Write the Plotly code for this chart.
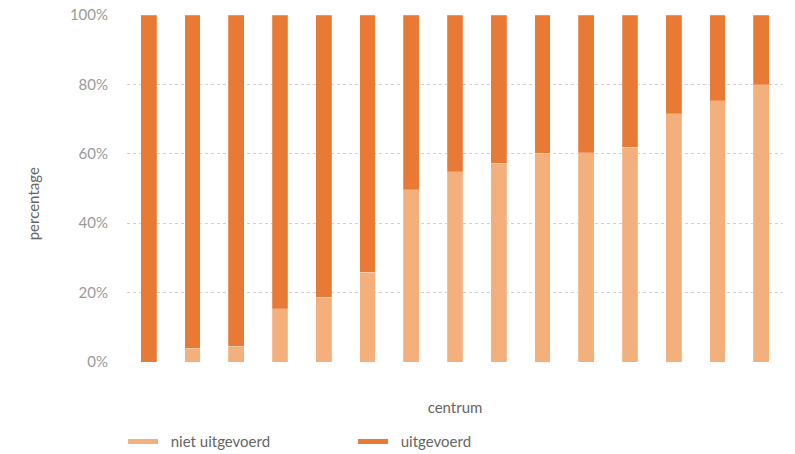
import plotly.graph_objects as go

# Centres (labels not shown on the axis)
centra = ["C01", "C02", "C03", "C04", "C05", "C06", "C07", "C08",
          "C09", "C10", "C11", "C12", "C13", "C14", "C15"]

# Share of cases per centre, in percent
niet_uitgevoerd = [0.0, 3.9, 4.6, 15.4, 18.6, 25.8, 49.6, 54.8,
                   57.3, 60.1, 60.3, 61.9, 71.6, 75.3, 79.9]
uitgevoerd = [100.0, 96.1, 95.4, 84.6, 81.4, 74.2, 50.4, 45.2,
              42.7, 39.9, 39.7, 38.1, 28.4, 24.7, 20.1]

LIGHT = "#F3B07D"
DARK = "#E97A35"
FONT = "Lato"
PAD = "\u00a0\u00a0"  # extra gap between legend line and its label

fig = go.Figure()

for name, vals, col in [("niet uitgevoerd", niet_uitgevoerd, LIGHT),
                        ("uitgevoerd", uitgevoerd, DARK)]:
    fig.add_trace(go.Bar(
        x=centra, y=[v / 100 for v in vals], name=name,
        marker=dict(color=col, line=dict(color="rgba(255,255,255,0.35)", width=0.6)),
        showlegend=False,
    ))

# Legend entries drawn as short thick lines
for name, col in [("niet uitgevoerd", LIGHT), ("uitgevoerd", DARK)]:
    fig.add_trace(go.Scatter(
        x=[None], y=[None], mode="lines", name=PAD + name,
        line=dict(color=col, width=5),
    ))

fig.update_layout(
    width=795, height=454,
    barmode="stack", bargap=0.64,
    plot_bgcolor="white", paper_bgcolor="white",
    margin=dict(l=127, r=12, t=15, b=92, autoexpand=False),
    font=dict(family=FONT, color="#777"),
    legend=dict(
        orientation="h", traceorder="normal",
        x=-0.006, xanchor="left", y=-0.23, yanchor="middle",
        entrywidth=185, entrywidthmode="pixels",
        font=dict(size=15, color="#666", family=FONT),
        itemwidth=30,
    ),
    xaxis=dict(
        showticklabels=False, showgrid=False, zeroline=False, automargin=False,
        title=dict(text="centrum", standoff=40, font=dict(size=15, color="#666")),
    ),
    yaxis=dict(
        range=[0, 1], dtick=0.2, tickformat=".0%", automargin=False,
        showgrid=True, gridcolor="#d2d2d2", griddash="dot", gridwidth=1,
        zeroline=False, ticklabelstandoff=18,
        tickfont=dict(size=15, color="#9a9a9a"),
    ),
    annotations=[dict(
        text="percentage", textangle=-90, showarrow=False,
        xref="paper", yref="paper", x=-0.143, y=0.455,
        xanchor="center", yanchor="middle",
        font=dict(size=15, color="#666", family=FONT),
    )],
)

fig.write_html("out.html")
